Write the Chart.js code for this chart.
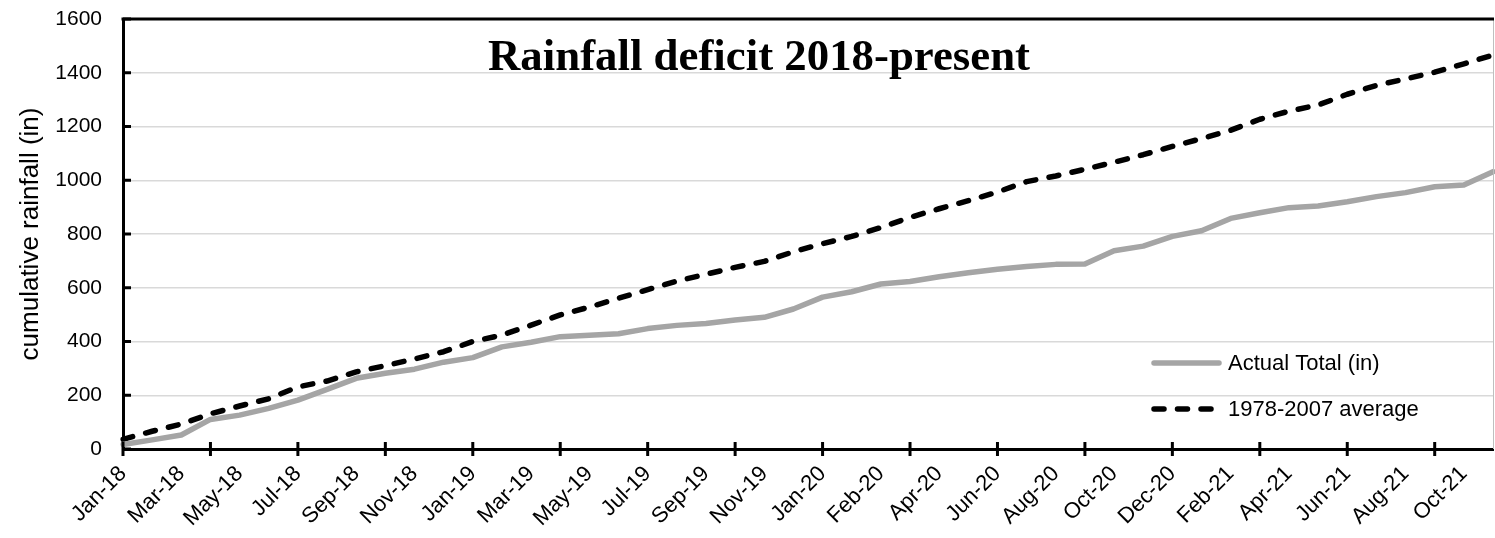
<!DOCTYPE html>
<html>
<head>
<meta charset="utf-8">
<script src="https://cdn.jsdelivr.net/npm/chart.js@4.4.1/dist/chart.umd.min.js"></script>
<style>
html,body{margin:0;padding:0;background:#fff;}
#wrap{width:1495px;height:538px;position:relative;}
</style>
</head>
<body>
<div id="wrap"><canvas id="c" width="1495" height="538"></canvas></div>
<script>
// ---- data ----
const months = [
  'Jan-18','Feb-18','Mar-18','Apr-18','May-18','Jun-18','Jul-18','Aug-18','Sep-18','Oct-18','Nov-18','Dec-18',
  'Jan-19','Feb-19','Mar-19','Apr-19','May-19','Jun-19','Jul-19','Aug-19','Sep-19','Oct-19','Nov-19','Dec-19',
  'Jan-20','Jan-20','Feb-20','Mar-20','Apr-20','May-20','Jun-20','Jul-20','Aug-20','Sep-20','Oct-20','Nov-20','Dec-20',
  'Jan-21','Feb-21','Mar-21','Apr-21','May-21','Jun-21','Jul-21','Aug-21','Sep-21','Oct-21','Nov-21'
];
const actualTotal = [
  17, 34, 52, 110, 126, 151, 182, 222, 263, 282, 297, 323,
  340, 380, 397, 418, 423, 429, 448, 460, 467, 480, 490, 521,
  565, 585, 614, 623, 641, 656, 669, 679, 687, 688, 738, 755, 791,
  812, 858, 879, 898, 904, 920, 939, 954, 976, 982, 1032
];
const average19782007 = [
  36, 66, 93, 131, 160, 187, 231, 253, 287, 310, 335, 362,
  400, 424, 461, 499, 528, 561, 593, 625, 650, 676, 698, 734,
  764, 791, 824, 862, 894, 924, 956, 995, 1016, 1041, 1067, 1095, 1126,
  1155, 1186, 1227, 1257, 1280, 1320, 1353, 1377, 1402, 1433, 1466
];
const yTickValues = [0, 200, 400, 600, 800, 1000, 1200, 1400, 1600];
const seriesNames = ['Actual Total (in)', '1978-2007 average'];
const chartTitle = 'Rainfall deficit 2018-present';
const yAxisTitle = 'cumulative rainfall (in)';

const FONT = "'Liberation Sans', Arial, sans-serif";

const framePlugin = {
  id: 'frame',
  afterDraw(chart) {
    const ctx = chart.ctx;
    const a = chart.chartArea;
    const xs = chart.scales.x, ys = chart.scales.y;
    ctx.save();
    // right thin border
    ctx.strokeStyle = '#BFBFBF';
    ctx.lineWidth = 1;
    ctx.beginPath();
    ctx.moveTo(a.right + 0.5, a.top);
    ctx.lineTo(a.right + 0.5, a.bottom);
    ctx.stroke();
    // top thick border
    ctx.strokeStyle = '#000';
    ctx.lineWidth = 3;
    ctx.beginPath();
    ctx.moveTo(a.left - 1.5, a.top);
    ctx.lineTo(a.right + 1, a.top);
    ctx.stroke();
    // x tick marks crossing the axis (every 3 categories)
    for (let i = 0; i < months.length; i += 3) {
      const px = xs.getPixelForValue(i);
      ctx.beginPath();
      ctx.moveTo(px, a.bottom - 7);
      ctx.lineTo(px, a.bottom + 7);
      ctx.stroke();
    }
    // y tick marks inside
    yTickValues.forEach(v => {
      const py = ys.getPixelForValue(v);
      ctx.beginPath();
      ctx.moveTo(a.left, py);
      ctx.lineTo(a.left + 8, py);
      ctx.stroke();
    });
    // title inside plot
    ctx.fillStyle = '#000';
    ctx.font = "bold 100px 'Liberation Serif', 'Times New Roman', serif";
    const w100 = ctx.measureText(chartTitle).width;
    const size = 100 * 542 / w100;
    ctx.font = "bold " + size.toFixed(2) + "px 'Liberation Serif', 'Times New Roman', serif";
    ctx.textAlign = 'center';
    ctx.textBaseline = 'alphabetic';
    ctx.fillText(chartTitle, 759, 70);
    // legend
    const rows = [363, 409];
    chart.data.datasets.forEach((ds, k) => {
      const y = rows[k];
      ctx.save();
      ctx.strokeStyle = ds.borderColor;
      ctx.lineWidth = ds.borderWidth;
      ctx.lineCap = ds.borderCapStyle || 'butt';
      ctx.setLineDash(ds.borderDash || []);
      ctx.beginPath();
      ctx.moveTo(1154, y);
      ctx.lineTo(1219, y);
      ctx.stroke();
      ctx.restore();
      ctx.fillStyle = '#000';
      ctx.font = "22px " + FONT;
      ctx.textAlign = 'left';
      ctx.textBaseline = 'middle';
      ctx.fillText(ds.label, 1228, y + 1);
    });
    ctx.restore();
  }
};

new Chart(document.getElementById('c'), {
  type: 'line',
  data: {
    labels: months,
    datasets: [
      {
        label: seriesNames[0],
        data: actualTotal,
        borderColor: '#A5A5A5',
        borderWidth: 5.5,
        borderCapStyle: 'round',
        borderJoinStyle: 'round',
        pointRadius: 0,
        tension: 0,
        fill: false
      },
      {
        label: seriesNames[1],
        data: average19782007,
        borderColor: '#000000',
        borderWidth: 5.5,
        borderDash: [10, 13.5],
        borderCapStyle: 'round',
        borderJoinStyle: 'round',
        pointRadius: 0,
        tension: 0,
        fill: false
      }
    ]
  },
  options: {
    responsive: false,
    animation: false,
    devicePixelRatio: 1,
    layout: { padding: { top: 19, right: 2, left: 0, bottom: 0 } },
    plugins: {
      legend: { display: false },
      title: { display: false },
      tooltip: { enabled: false }
    },
    scales: {
      x: {
        type: 'category',
        offset: false,
        grid: { display: false, drawTicks: false },
        border: { display: true, color: '#000', width: 3 },
        ticks: {
          autoSkip: false,
          maxRotation: 45,
          minRotation: 45,
          padding: 12,
          color: '#000',
          font: { family: FONT, size: 22 },
          callback: function (value, index) {
            return index % 2 === 0 ? months[index] : '';
          }
        },
        afterFit(scale) {
          scale.height = 89;
          scale.paddingLeft = 0; scale.paddingRight = 0;
          scale.paddingTop = 0; scale.paddingBottom = 0;
        }
      },
      y: {
        min: 0,
        max: 1600,
        grid: { color: '#D9D9D9', lineWidth: 1.5, drawTicks: false },
        border: { display: true, color: '#000', width: 3 },
        ticks: {
          padding: 21,
          color: '#000',
          font: { family: FONT, size: 21 },
          callback: function (value) { return String(value); }
        },
        afterBuildTicks(scale) { scale.ticks = yTickValues.map(v => ({ value: v })); },
        title: {
          display: true,
          text: yAxisTitle,
          color: '#000',
          font: { family: FONT, size: 26 },
          padding: { top: 15, bottom: 0 }
        },
        afterFit(scale) {
          scale.width = 123;
          scale.paddingLeft = 0; scale.paddingRight = 0;
          scale.paddingTop = 0; scale.paddingBottom = 0;
        }
      }
    }
  },
  plugins: [framePlugin]
});
</script>
</body>
</html>
